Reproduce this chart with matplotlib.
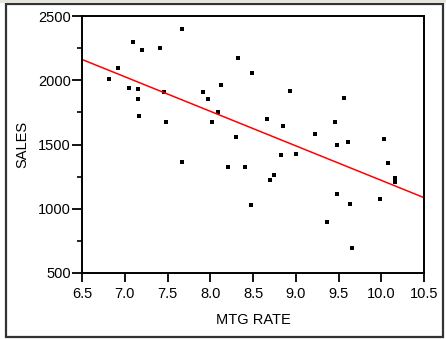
import numpy as np
import matplotlib
matplotlib.use("Agg")
import matplotlib.pyplot as plt
from matplotlib.patches import Rectangle
from matplotlib.ticker import MultipleLocator

plt.rcParams['font.family'] = ['Liberation Sans', 'DejaVu Sans']

mtg_rate = [7.67, 7.10, 7.20, 7.41, 6.92, 6.82, 8.32, 8.49, 7.05, 7.15,
            7.15, 7.46, 7.17, 7.48, 7.92, 8.12, 7.97, 8.09, 8.02, 8.30,
            8.93, 9.56, 8.66, 8.85, 9.46, 9.23, 10.03, 9.48, 9.61,
            7.67, 8.21, 8.41, 8.48, 8.83, 9.00, 8.75, 8.70, 10.08, 10.16,
            10.16, 9.48, 9.63, 9.99, 9.36, 9.66]
sales = [2398, 2297, 2232, 2253, 2096, 2008, 2174, 2055, 1940, 1930,
         1852, 1909, 1719, 1675, 1909, 1964, 1852, 1752, 1675, 1562,
         1919, 1865, 1695, 1641, 1675, 1583, 1539, 1495, 1518,
         1362, 1328, 1328, 1026, 1417, 1427, 1260, 1227, 1359, 1237,
         1206, 1115, 1039, 1073, 893, 693]

x_ticks = [6.5, 7.0, 7.5, 8.0, 8.5, 9.0, 9.5, 10.0, 10.5]
y_ticks = [500, 1000, 1500, 2000, 2500]

W, H = 446, 339
fig = plt.figure(figsize=(W / 100, H / 100), dpi=100)
ax = fig.add_axes([82 / W, 1 - 273 / H, (424 - 82) / W, (273 - 16) / H])

ax.plot(mtg_rate, sales, 's', color='black', markersize=3.2, markeredgewidth=0)

slope, intercept = np.polyfit(mtg_rate, sales, 1)
xl = np.array([6.5, 10.5])
ax.plot(xl, slope * xl + intercept, color='#ff0000', linewidth=1.1)

ax.set_xlim(6.5, 10.5)
ax.set_ylim(500, 2500)
ax.set_xticks(x_ticks)
ax.set_xticklabels([f"{v:.1f}" for v in x_ticks])
ax.set_yticks(y_ticks)
ax.yaxis.set_minor_locator(MultipleLocator(250))
ax.tick_params(axis='both', which='major', direction='out', width=1.3,
               labelsize=10.5, colors='black')
ax.tick_params(axis='x', which='major', length=6.5, pad=3.5)
ax.tick_params(axis='y', which='major', length=7.5, pad=0.5)
ax.tick_params(axis='y', which='minor', direction='out', length=3.8, width=1.2)
for s in ax.spines.values():
    s.set_linewidth(1.4)
    s.set_color('black')

ax.set_xlabel('MTG RATE', fontsize=10.5, labelpad=9)
ax.set_ylabel('SALES', fontsize=10.5, labelpad=6)

# outer frame
fig.patches.append(Rectangle((6 / W, 1 - 337 / H), (443 - 6) / W, (337 - 4) / H,
                             transform=fig.transFigure, fill=False,
                             edgecolor='#333333', linewidth=1.6))
fig.patches.append(Rectangle((0, 1 - 3 / H), 1, 3 / H, transform=fig.transFigure,
                             facecolor='#e6e3dc', edgecolor='none'))

fig.savefig('out.png', dpi=100)
